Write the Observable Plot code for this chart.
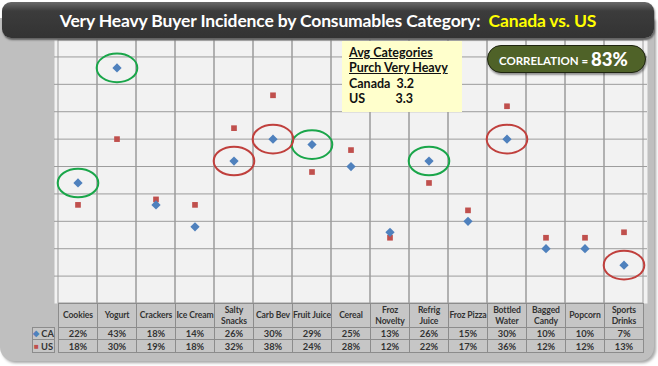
<!DOCTYPE html>
<html><head><meta charset="utf-8">
<script src="https://cdn.jsdelivr.net/npm/d3@7"></script>
<script src="https://cdn.jsdelivr.net/npm/@observablehq/plot@0.6"></script>
<style>
body{margin:0;background:#fff;font-family:Lato,"Open Sans",sans-serif;}
#wrap{position:relative;width:658px;height:366px;overflow:hidden;background:#fff;}
#panel{position:absolute;left:0px;top:18px;width:654px;height:343px;background:#bfbfbf;border-radius:0 0 14px 14px;box-shadow:2px 2px 3px rgba(0,0,0,.35);}
#chart{position:absolute;left:0;top:0;}
#title{position:absolute;left:2px;top:2px;width:652px;height:36px;border-radius:9px;background:linear-gradient(#6a6a6a,#3c3c3c 25%,#333 100%);box-shadow:1px 2px 2px rgba(0,0,0,.5);color:#fff;font-weight:bold;font-size:17.5px;letter-spacing:-0.15px;text-align:center;line-height:37px;white-space:nowrap;}
#title .yel{color:#ffff00;}
#avg{position:absolute;left:342px;top:41px;width:120px;height:71px;background:#ffffcc;font-weight:bold;font-size:12.5px;color:#111;box-sizing:border-box;padding:4px 0 0 7px;line-height:15.3px;}
#avg u{text-decoration-color:#111;}
#corr{position:absolute;left:487px;top:45px;width:159px;height:28px;background:#4f6228;border:1.5px solid #1e2410;border-radius:15px;box-sizing:border-box;color:#fff;font-weight:bold;font-size:11.5px;line-height:26px;padding-left:11px;box-shadow:1px 2px 2px rgba(0,0,0,.4);white-space:nowrap;}
#corr b{font-size:18.5px;vertical-align:-1px;}
.cell{position:absolute;box-sizing:border-box;border:1px solid #8c8c8c;background:#c6c6c6;color:#333;font-weight:bold;font-size:8.6px;letter-spacing:-0.1px;display:flex;align-items:center;justify-content:center;text-align:center;line-height:11px;white-space:pre;}
.val{font-size:9.3px;letter-spacing:0;}
</style></head>
<body>
<div id="wrap">
  <div id="panel"></div>
  <div id="chart"></div>
  <div id="title">Very Heavy Buyer Incidence by Consumables Category:&nbsp; <span class="yel">Canada vs. US</span></div>
  <div id="avg"><u>Avg Categories</u><br><u>Purch Very Heavy</u><br>Canada&nbsp; 3.2<br>US&nbsp;&nbsp;&nbsp;&nbsp;&nbsp;&nbsp;&nbsp;&nbsp;&nbsp; 3.3</div>
  <div id="corr">CORRELATION = <b>83%</b></div>
</div>
<script>
const categories = ["Cookies","Yogurt","Crackers","Ice Cream","Salty Snacks","Carb Bev","Fruit Juice","Cereal","Froz Novelty","Refrig Juice","Froz Pizza","Bottled Water","Bagged Candy","Popcorn","Sports Drinks"];
const headerLabels = ["Cookies","Yogurt","Crackers","Ice Cream","Salty\nSnacks","Carb Bev","Fruit Juice","Cereal","Froz\nNovelty","Refrig\nJuice","Froz Pizza","Bottled\nWater","Bagged\nCandy","Popcorn","Sports\nDrinks"];
const caValues = [22,43,18,14,26,30,29,25,13,26,15,30,10,10,7];
const usValues = [18,30,19,18,32,38,24,28,12,22,17,36,12,12,13];
const greenCircled = ["Cookies","Yogurt","Fruit Juice","Refrig Juice"];
const redCircled = ["Salty Snacks","Carb Bev","Bottled Water","Sports Drinks"];
const gridTicks = [5,10,15,20,25,30,35,40,45];

const rows = categories.map((c,i)=>({cat:c, ca:caValues[i], us:usValues[i]}));
const circled = rows.filter(r=>greenCircled.includes(r.cat)).map(r=>({...r,col:"#1aa64a"}))
  .concat(rows.filter(r=>redCircled.includes(r.cat)).map(r=>({...r,col:"#c0403d"})));

const ellipse = {draw(ctx,size){const r=Math.sqrt(size/Math.PI);const rx=r*1.42,ry=r,k=0.5523;
  ctx.moveTo(rx,0);ctx.bezierCurveTo(rx,ry*k,rx*k,ry,0,ry);ctx.bezierCurveTo(-rx*k,ry,-rx,ry*k,-rx,0);
  ctx.bezierCurveTo(-rx,-ry*k,-rx*k,-ry,0,-ry);ctx.bezierCurveTo(rx*k,-ry,rx,-ry*k,rx,0);ctx.closePath();}};

const plot = Plot.plot({
  width:658, height:366,
  marginLeft:54, marginRight:11, marginTop:40, marginBottom:63,
  style:{background:"transparent"},
  x:{type:"band", domain:categories, padding:0, axis:null},
  y:{domain:[0,48], axis:null},
  marks:[
    Plot.frame({fill:"#f2f2f2", stroke:null}),
    Plot.cell(categories,{x:d=>d, fill:"none", stroke:"#9c9c9c", strokeWidth:1}),
    Plot.gridY(gridTicks,{stroke:"#9c9c9c", strokeOpacity:1}),
    Plot.dot(circled,{x:"cat", y:"ca", symbol:ellipse, r:14.3, stroke:"col", strokeWidth:2, fill:"none"}),
    Plot.dot(rows,{x:"cat", y:"us", symbol:"square", r:3.2, fill:"#c0504d"}),
    Plot.dot(rows,{x:"cat", y:"ca", symbol:"square", rotate:45, r:3.7, fill:"#4f81bd"})
  ]
});
document.getElementById("chart").appendChild(plot);

const xs = plot.scale("x");
const wrap = document.getElementById("wrap");
function addCell(x,y,w,h,html,cls){const d=document.createElement("div");d.className="cell"+(cls?" "+cls:"");
  d.style.left=x+"px";d.style.top=y+"px";d.style.width=(w+1)+"px";d.style.height=(h+1)+"px";d.innerHTML=html;wrap.appendChild(d);return d;}
const bw = xs.bandwidth;
const yH=303, hH=24, yCA=327, hR=12, yUS=339;
categories.forEach((c,i)=>{
  const x0 = xs.apply(c);
  addCell(x0,yH,bw,hH,headerLabels[i]);
  addCell(x0,yCA,bw,hR,caValues[i]+"%","val");
  addCell(x0,yUS,bw,hR+1,usValues[i]+"%","val");
});
const lx=32, lw=54-32;
addCell(lx,yCA,lw,hR,'<span style="color:#4f81bd;font-size:8px">◆</span>&nbsp;CA',"val");
addCell(lx,yUS,lw,hR+1,'<span style="color:#c0504d;font-size:8px">■</span>&nbsp;US',"val");
</script>
</body></html>
